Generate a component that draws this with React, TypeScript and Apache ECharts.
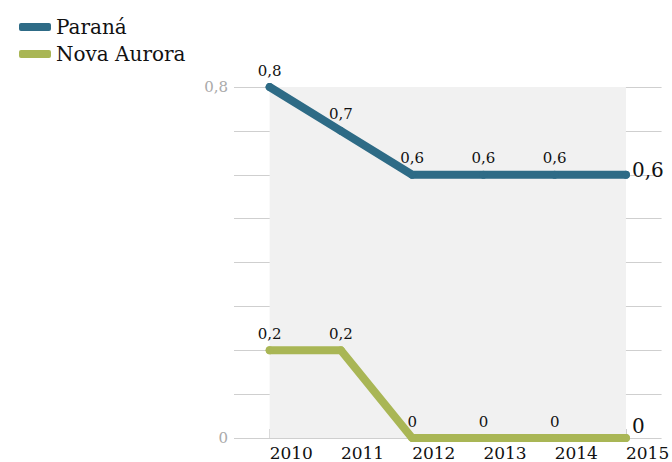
import React, { useEffect, useRef } from "react";
import * as echarts from "echarts";

const years = ["2010", "2011", "2012", "2013", "2014", "2015"];
const parana = [0.8, 0.7, 0.6, 0.6, 0.6, 0.6];
const novaAurora = [0.2, 0.2, 0, 0, 0, 0];
const seriesNames = ["Paraná", "Nova Aurora"];
const colors = ["#2e6b86", "#a9b655"];
const endLabelOffsets = [[0, -5], [0, -12]];

const FONT = "'DejaVu Serif', serif";
const fmt = (v: number) => (v === 0 ? "0" : String(v).replace(".", ","));

function withLabels(values: number[], offset: number[]) {
  return values.map((v, i) =>
    i === values.length - 1
      ? { value: v, label: { position: "right", fontSize: 20, distance: 2, offset } }
      : v
  );
}

export default function App() {
  const ref = useRef<HTMLDivElement>(null);
  useEffect(() => {
    const chart = echarts.init(ref.current!, undefined, { renderer: "svg" });
    const mkSeries = (name: string, data: number[], color: string, area: boolean, offset: number[]) => ({
      name,
      type: "line",
      data: withLabels(data, offset),
      symbol: "circle",
      symbolSize: 8,
      itemStyle: { color },
      lineStyle: { width: 8, color, cap: "round", join: "round" },
      label: {
        show: true,
        position: "top",
        distance: 5,
        formatter: (p: any) => fmt(p.value),
        fontFamily: FONT,
        fontSize: 15,
        color: "#111",
      },
      z: 3,
      markArea: area
        ? {
            silent: true,
            itemStyle: { color: "#f1f1f1" },
            data: [[{ xAxis: years[0], yAxis: 0 }, { xAxis: years[years.length - 1], yAxis: 0.8 }]],
          }
        : undefined,
    });
    chart.setOption({
      animation: false,
      legend: {
        left: 14,
        top: 12,
        orient: "vertical",
        itemWidth: 32,
        itemHeight: 8,
        itemGap: 7,
        icon: "roundRect",
        textStyle: { fontFamily: FONT, fontSize: 20, color: "#111" },
        data: seriesNames,
      },
      grid: { left: 234, right: 8, top: 87, bottom: 24 },
      xAxis: {
        type: "category",
        data: years,
        boundaryGap: true,
        axisLine: { show: false },
        axisTick: { show: true, alignWithLabel: true, inside: true, length: 9, lineStyle: { color: "#ccc" } },
        axisLabel: { align: "left", margin: 6, fontFamily: FONT, fontSize: 17, color: "#111" },
      },
      yAxis: {
        type: "value",
        min: 0,
        max: 0.8,
        interval: 0.1,
        axisLine: { show: false },
        axisTick: { show: false },
        splitLine: { lineStyle: { color: "#cfcfcf", width: 1 } },
        axisLabel: {
          margin: 6,
          fontFamily: FONT,
          fontSize: 15,
          color: "#aaa",
          formatter: (v: number) => (Math.abs(v) < 1e-9 ? "0" : Math.abs(v - 0.8) < 1e-9 ? "0,8" : ""),
        },
      },
      series: [
        mkSeries(seriesNames[0], parana, colors[0], true, endLabelOffsets[0]),
        mkSeries(seriesNames[1], novaAurora, colors[1], false, endLabelOffsets[1]),
      ],
    });
    return () => chart.dispose();
  }, []);
  return <div ref={ref} style={{ width: 672, height: 462, position: "absolute", left: 0, top: 0 }} />;
}
